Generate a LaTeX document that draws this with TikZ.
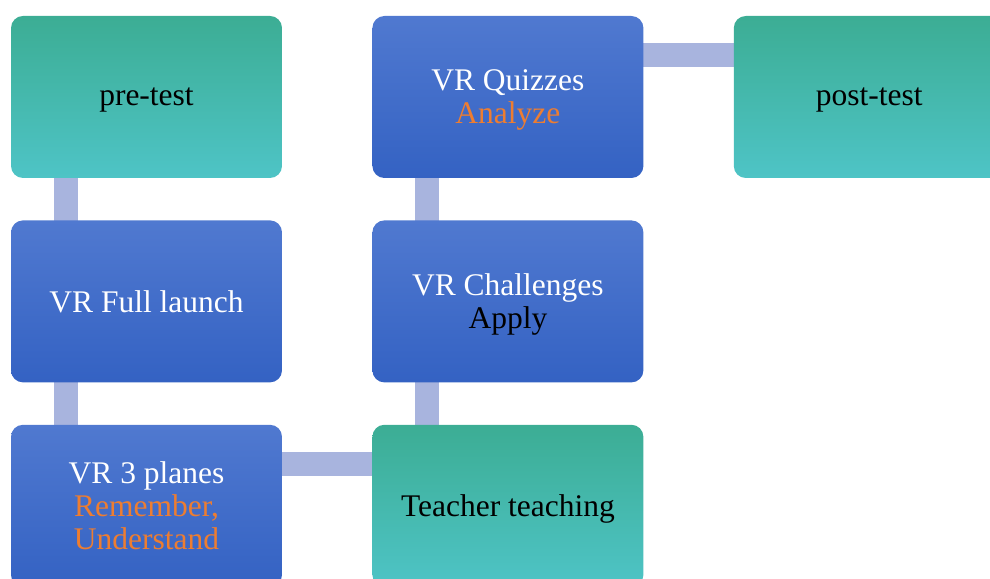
\documentclass[tikz,border=0pt]{standalone}
\usepackage{fontspec}
\setmainfont{Liberation Serif}
\usetikzlibrary{positioning, backgrounds}
\definecolor{stteal}{HTML}{22B2B8}
\definecolor{sttealtop}{HTML}{3CAD94}
\definecolor{sttealbot}{HTML}{4EC4C6}
\definecolor{stbluetop}{HTML}{5079D0}
\definecolor{stbluebot}{HTML}{3462C3}
\definecolor{stbar}{HTML}{A8B4DE}
\definecolor{storange}{HTML}{ED7D31}

\begin{document}
\begin{tikzpicture}[x=1pt, y=1pt,
  stage/.style={rectangle, rounded corners=12pt, minimum width=271pt,
    minimum height=162pt, inner sep=0pt, align=center, text depth=-4pt,
    font=\fontsize{31.5}{33}\selectfont},
  test/.style={stage, top color=sttealtop, middle color=stteal,
    bottom color=sttealbot, text=black},
  vrstep/.style={stage, top color=stbluetop, bottom color=stbluebot, text=white},
  bar/.style={draw=stbar, line width=24pt},
  node distance=42pt and 90pt,
]
  \useasboundingbox (0,0) rectangle (990,578);
  \clip (0,0) rectangle (990,578);
  \node[test] (pre) at (146.5,481) {pre-test};
  \node[vrstep, below=of pre] (full) {VR Full launch};
  \node[vrstep, below=of full] (planes) {VR 3 planes\\\textcolor{storange}{Remember,}\\\textcolor{storange}{Understand}};
  \node[test, right=of planes] (teach) {Teacher teaching};
  \node[vrstep, above=of teach] (chal) {VR Challenges\\\textcolor{black}{Apply}};
  \node[vrstep, above=of chal] (quiz) {VR Quizzes\\\textcolor{storange}{Analyze}};
  \node[test, right=of quiz] (post) {post-test};

  % connecting bars behind the boxes
  \begin{scope}[on background layer]
    \draw[bar] ([xshift=-80.5pt]pre.center) -- ([xshift=-80.5pt]full.center);
    \draw[bar] ([xshift=-80.5pt]full.center) -- ([xshift=-80.5pt]planes.center);
    \draw[bar] ([yshift=41.5pt]planes.center) -- ([yshift=41.5pt]teach.center);
    \draw[bar] ([xshift=-80.5pt]teach.center) -- ([xshift=-80.5pt]chal.center);
    \draw[bar] ([xshift=-80.5pt]chal.center) -- ([xshift=-80.5pt]quiz.center);
    \draw[bar] ([yshift=41.5pt]quiz.center) -- ([yshift=41.5pt]post.center);
  \end{scope}
\end{tikzpicture}
\end{document}
